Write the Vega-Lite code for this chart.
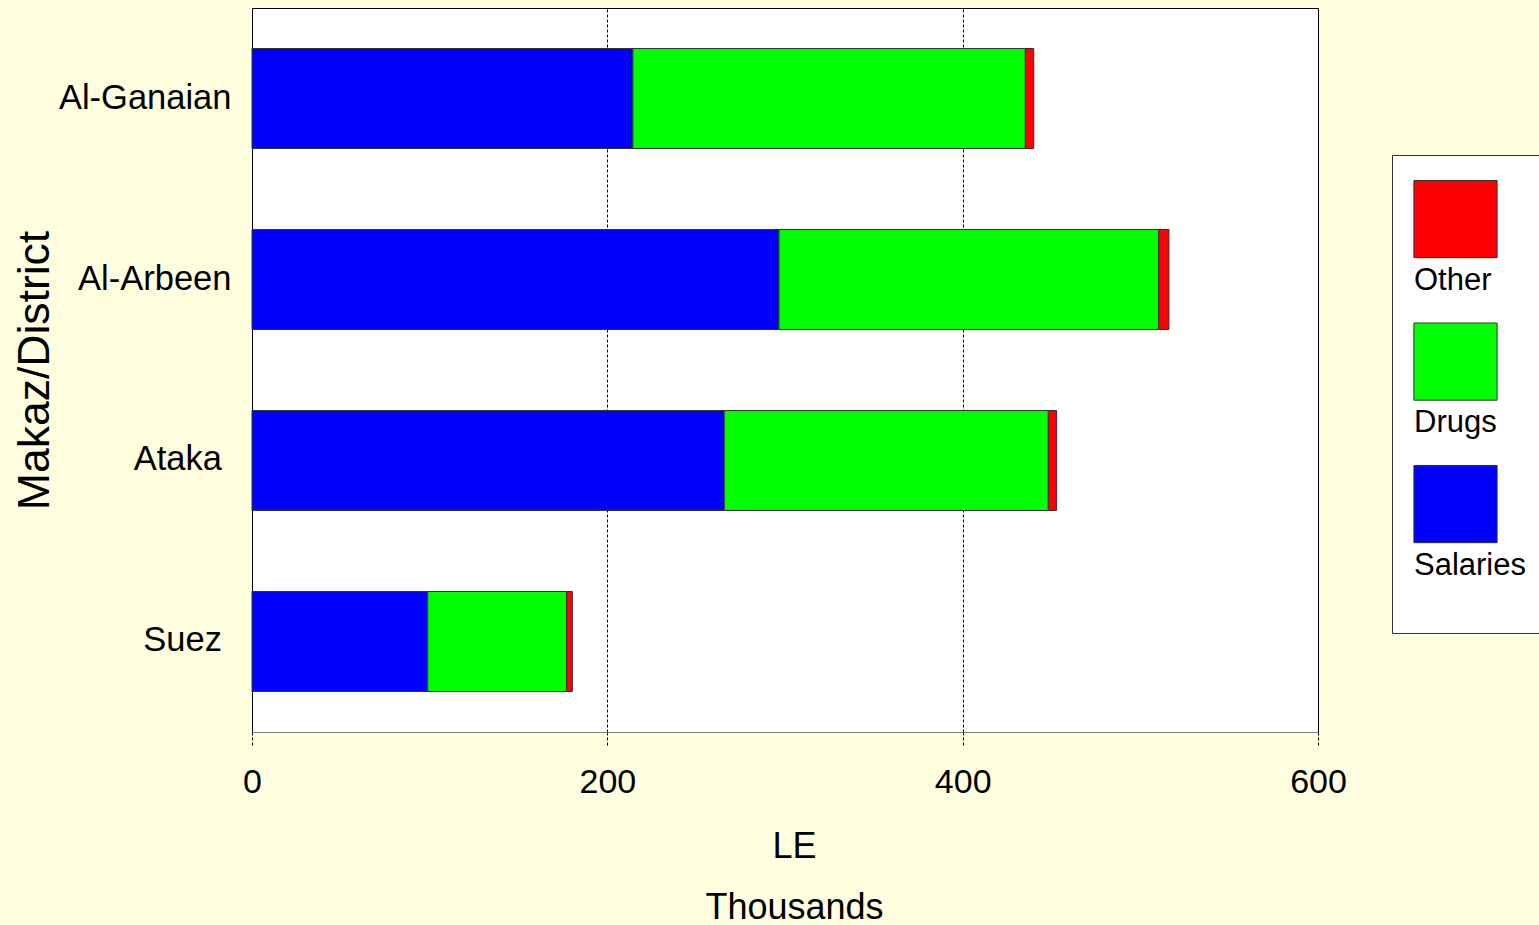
{
  "$schema": "https://vega.github.io/schema/vega-lite/v6.json",
  "width": 1066,
  "height": 724,
  "autosize": {"type": "none"},
  "padding": {"left": 252, "top": 8, "right": 221, "bottom": 193},
  "background": "#FFFFE0",
  "config": {
    "font": "Liberation Sans",
    "view": {"fill": "white", "stroke": "black", "strokeWidth": 1}
  },
  "data": {
    "values": [
      {"district": "Al-Ganaian", "cost": "Salaries", "rank": 1, "value": 214.4},
      {"district": "Al-Ganaian", "cost": "Drugs", "rank": 2, "value": 220.9},
      {"district": "Al-Ganaian", "cost": "Other", "rank": 3, "value": 4.7},
      {"district": "Al-Arbeen", "cost": "Salaries", "rank": 1, "value": 296.6},
      {"district": "Al-Arbeen", "cost": "Drugs", "rank": 2, "value": 213.7},
      {"district": "Al-Arbeen", "cost": "Other", "rank": 3, "value": 5.8},
      {"district": "Ataka", "cost": "Salaries", "rank": 1, "value": 265.8},
      {"district": "Ataka", "cost": "Drugs", "rank": 2, "value": 182.4},
      {"district": "Ataka", "cost": "Other", "rank": 3, "value": 4.7},
      {"district": "Suez", "cost": "Salaries", "rank": 1, "value": 98.9},
      {"district": "Suez", "cost": "Drugs", "rank": 2, "value": 78.2},
      {"district": "Suez", "cost": "Other", "rank": 3, "value": 3.2}
    ]
  },
  "mark": {"type": "bar", "stroke": "#333333", "strokeWidth": 1},
  "encoding": {
    "y": {
      "field": "district",
      "type": "nominal",
      "sort": ["Al-Ganaian", "Al-Arbeen", "Ataka", "Suez"],
      "scale": {"paddingInner": 0.4475, "paddingOuter": 0.2238},
      "axis": {
        "title": "Makaz/District",
        "titleFontSize": 44.5,
        "titleFontWeight": "normal",
        "titleColor": "black",
        "titlePadding": 1,
        "labelFontSize": 34.5,
        "labelColor": "black",
        "labelPadding": 21,
        "labelExpr": "datum.label == 'Ataka' || datum.label == 'Suez' ? datum.label + '\u00a0\u200b' : datum.label",
        "ticks": false,
        "domain": false,
        "grid": false
      }
    },
    "x": {
      "field": "value",
      "type": "quantitative",
      "stack": "zero",
      "scale": {"domain": [0, 600], "nice": false},
      "axis": {
        "values": [0, 200, 400, 600],
        "title": ["LE", "Thousands"],
        "titleFontSize": 36,
        "titleFontWeight": "normal",
        "titleColor": "black",
        "titleLineHeight": 61,
        "titlePadding": 30,
        "titleX": 542,
        "labelFontSize": 34,
        "labelColor": "black",
        "labelPadding": 18,
        "labelFlush": false,
        "labelOverlap": false,
        "tickSize": 15,
        "tickColor": "black",
        "tickDash": [3, 2],
        "domainColor": "#808080",
        "grid": true,
        "gridColor": "black",
        "gridDash": [3, 2],
        "gridOpacity": 1,
        "gridWidth": 1
      }
    },
    "color": {
      "field": "cost",
      "type": "nominal",
      "scale": {
        "domain": ["Salaries", "Drugs", "Other"],
        "range": ["#0000FF", "#00FF00", "#FF0000"]
      },
      "legend": {
        "orient": "none",
        "legendX": 1140,
        "legendY": 147,
        "values": ["Other", "Drugs", "Salaries"],
        "title": " ",
        "titleFontSize": 30,
        "titlePadding": 32,
        "direction": "vertical",
        "columns": 1,
        "fillColor": "white",
        "strokeColor": "#333333",
        "padding": 23,
        "symbolType": "M-1.04,-2.5H1.04V-0.57H-1.04Z M0,1.04",
        "symbolSize": 6400,
        "symbolStrokeColor": "#333333",
        "symbolStrokeWidth": 1,
        "symbolOpacity": 1,
        "labelFontSize": 31,
        "labelColor": "black",
        "labelOffset": -82,
        "labelLimit": 300,
        "rowPadding": -4.5
      }
    },
    "order": {"field": "rank", "type": "quantitative"}
  }
}
